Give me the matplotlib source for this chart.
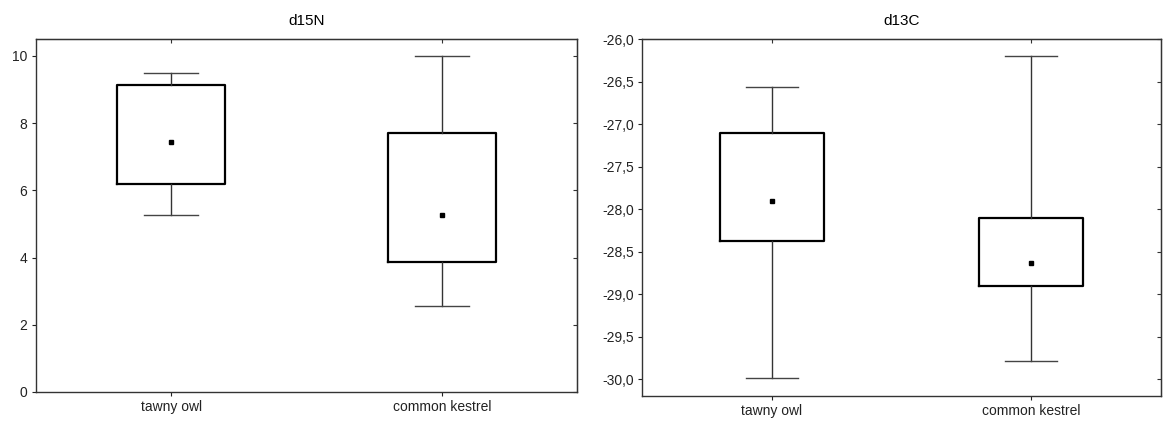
import matplotlib
matplotlib.use("Agg")
import matplotlib.pyplot as plt

plt.rcParams['font.family'] = ['Liberation Sans', 'DejaVu Sans']

## Data
species = ['tawny owl', 'common kestrel']

# d15N
n_whislo = [5.26, 2.56]
n_q1     = [6.19, 3.88]
n_mid    = [7.44, 5.26]
n_q3     = [9.14, 7.70]
n_whishi = [9.48, 10.0]
n_ticks  = [0, 2, 4, 6, 8, 10]

# d13C
c_whislo = [-29.99, -29.79]
c_q1     = [-28.38, -28.90]
c_mid    = [-27.91, -28.64]
c_q3     = [-27.11, -28.10]
c_whishi = [-26.57, -26.20]
c_ticks  = [-30.0, -29.5, -29.0, -28.5, -28.0, -27.5, -27.0, -26.5, -26.0]
c_ticklabels = ['-30,0', '-29,5', '-29,0', '-28,5', '-28,0', '-27,5', '-27,0', '-26,5', '-26,0']


def make_stats(lo, q1, mid, q3, hi):
    stats = []
    for i in range(len(lo)):
        stats.append({'whislo': lo[i], 'q1': q1[i], 'med': mid[i], 'q3': q3[i],
                      'whishi': hi[i], 'mean': mid[i], 'fliers': [],
                      'label': species[i]})
    return stats


def draw_panel(ax, stats, title, yticks, ylim, yticklabels=None):
    pos = [1, 2]
    ax.bxp(stats, positions=pos, widths=0.4, showfliers=False, showmeans=True,
           boxprops=dict(color='black', linewidth=1.6),
           whiskerprops=dict(color='#333333', linewidth=1.0),
           capprops=dict(color='#444444', linewidth=1.0),
           medianprops=dict(visible=False),
           meanprops=dict(marker='s', markerfacecolor='black', markeredgecolor='black',
                          markersize=3.5),
           capwidths=0.2)
    ax.set_xlim(0.5, 2.5)
    ax.set_ylim(*ylim)
    ax.set_xticks(pos)
    ax.set_xticklabels(species)
    ax.set_yticks(yticks)
    if yticklabels is not None:
        ax.set_yticklabels(yticklabels)
    ax.tick_params(direction='out', length=3, width=0.8, labelsize=10, colors='#222222',
                   pad=3)
    for sp in ax.spines.values():
        sp.set_color('#333333')
        sp.set_linewidth(1.0)
    ax.set_title(title, fontsize=11, pad=10)

    # inward ticks on the right and on top
    sec_y = ax.secondary_yaxis('right')
    sec_y.set_yticks(yticks)
    sec_y.tick_params(direction='in', length=3, width=0.8, labelright=False, colors='#333333')
    sec_x = ax.secondary_xaxis('top')
    sec_x.set_xticks(pos)
    sec_x.tick_params(direction='in', length=3, width=0.8, labeltop=False, colors='#333333')


fig = plt.figure(figsize=(11.63, 4.23), dpi=100)
ax1 = fig.add_axes([0.0307, 0.0733, 0.4657, 0.8345])
ax2 = fig.add_axes([0.552, 0.0638, 0.4463, 0.844])

draw_panel(ax1, make_stats(n_whislo, n_q1, n_mid, n_q3, n_whishi), 'd15N',
           n_ticks, (0, 10.5))
draw_panel(ax2, make_stats(c_whislo, c_q1, c_mid, c_q3, c_whishi), 'd13C',
           c_ticks, (-30.2, -26.0), c_ticklabels)

fig.savefig('out.png', dpi=100)
